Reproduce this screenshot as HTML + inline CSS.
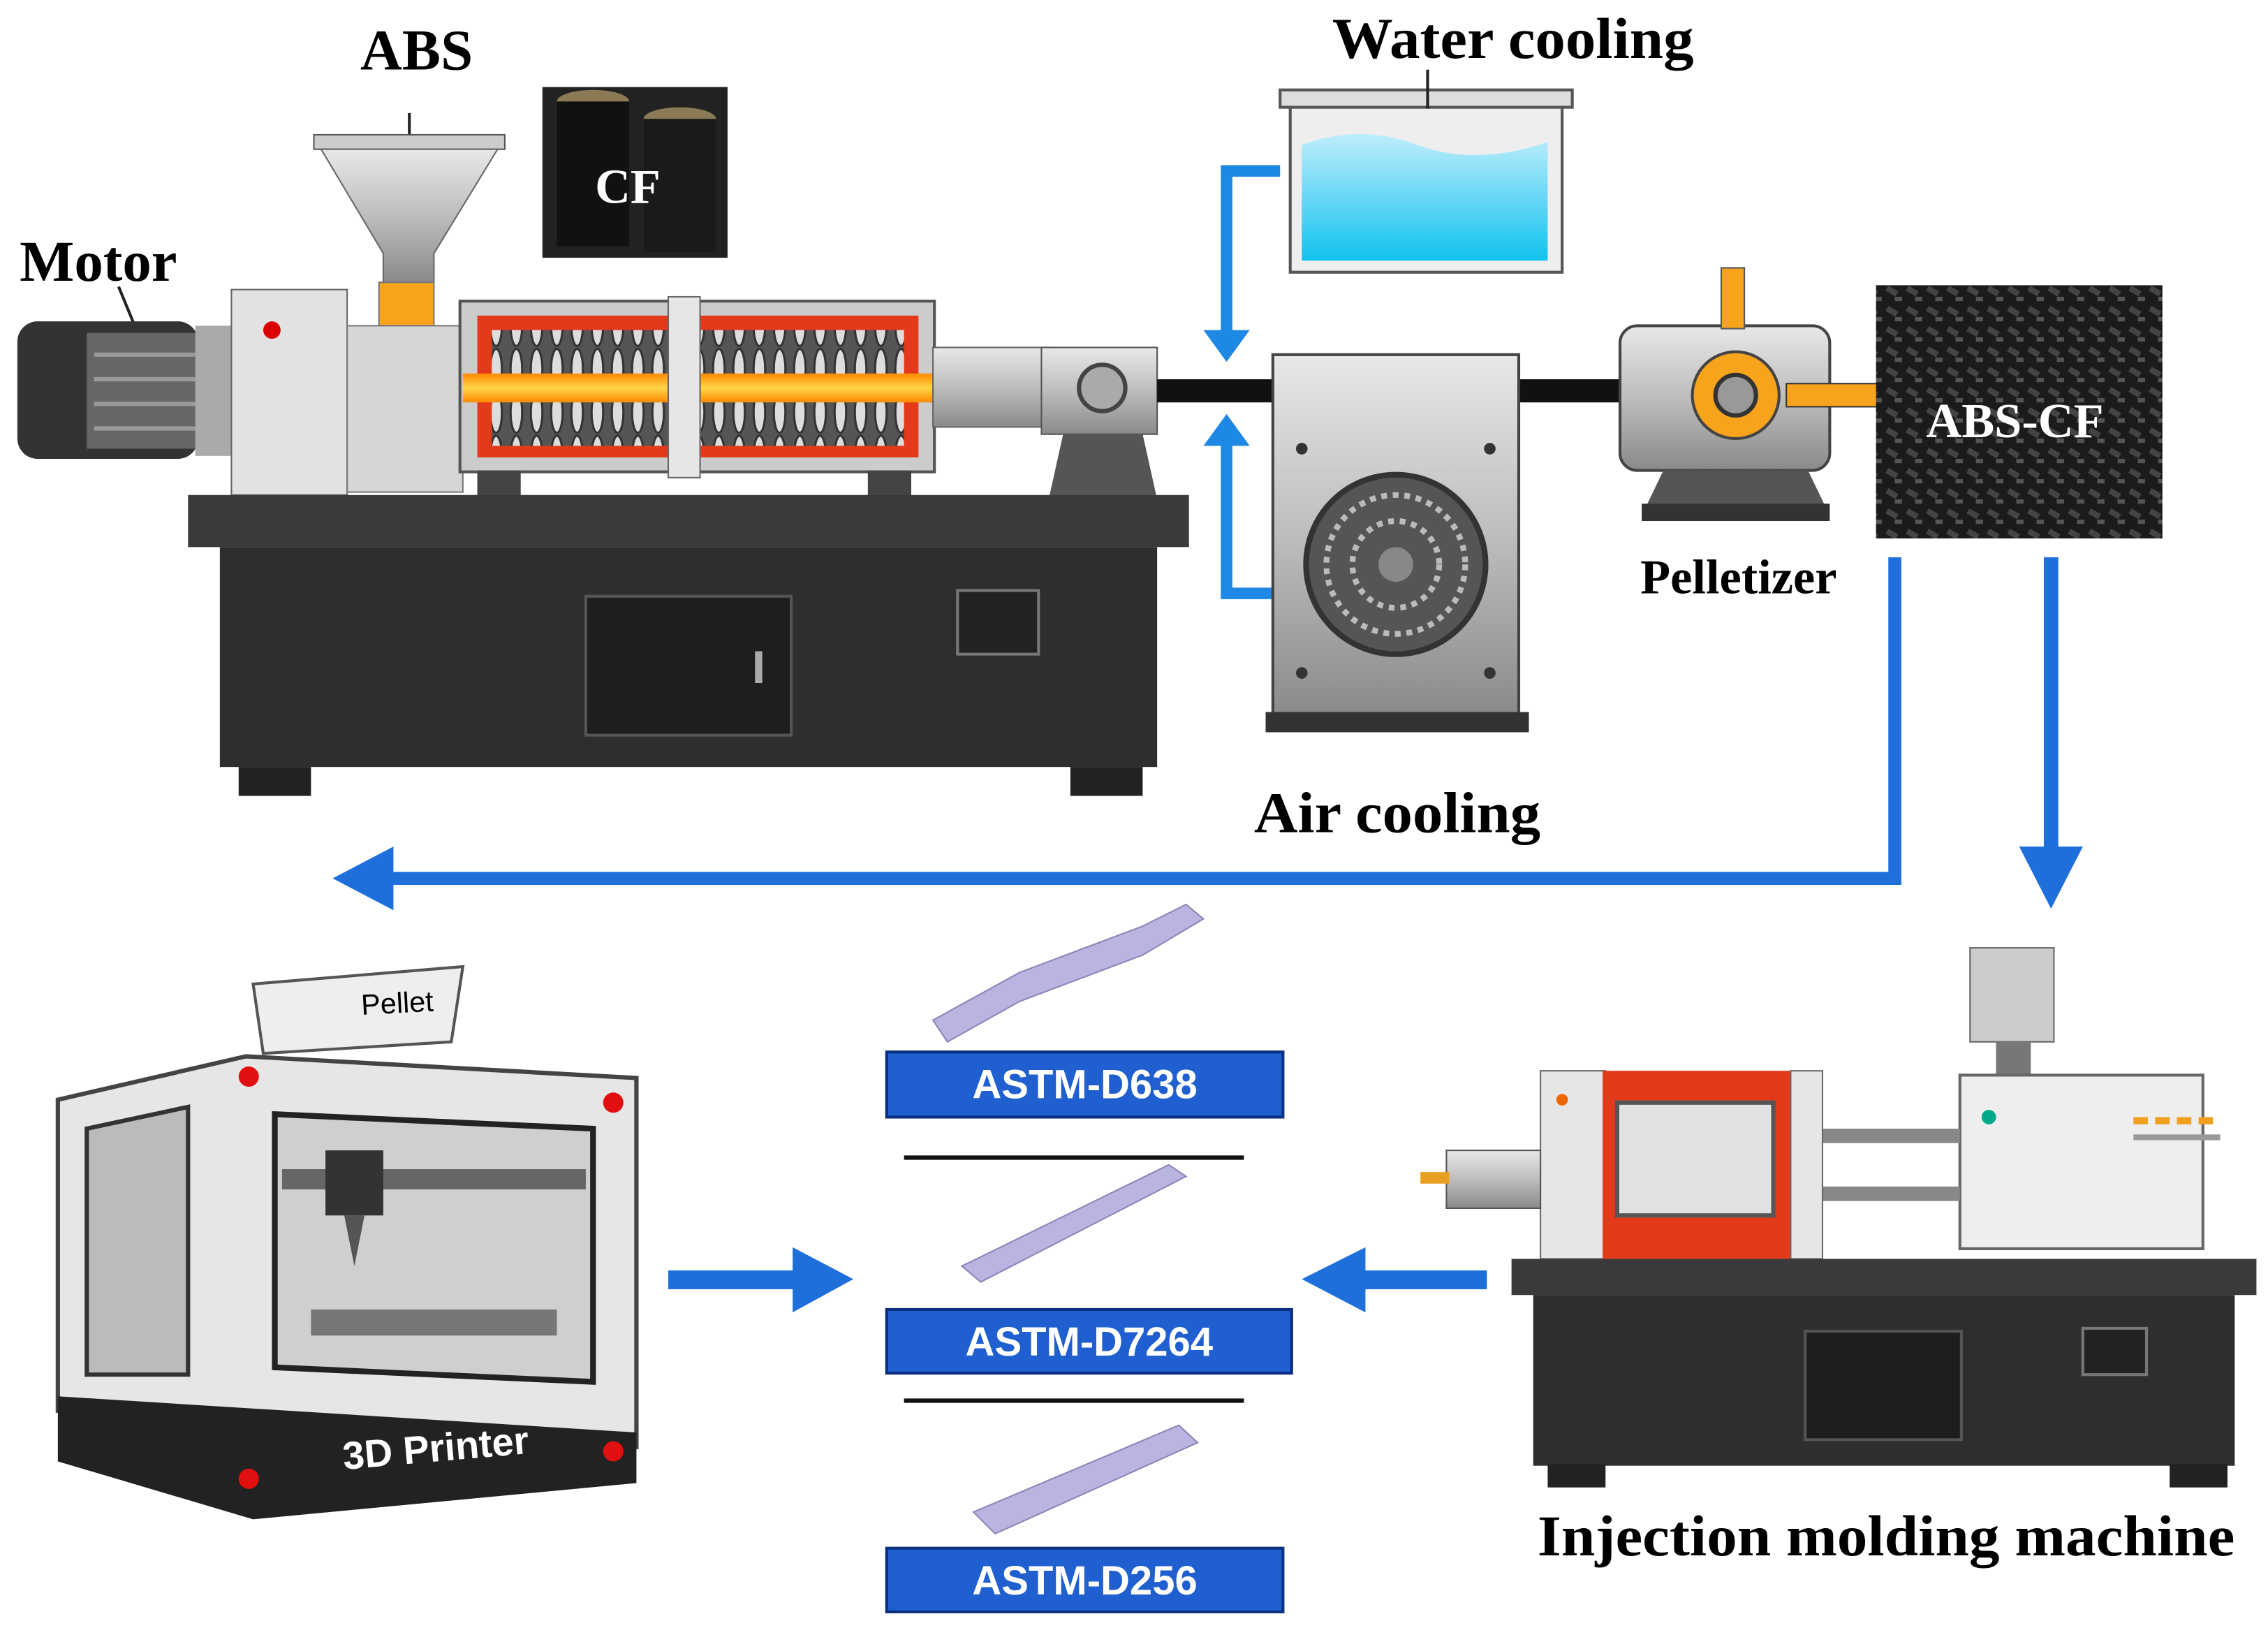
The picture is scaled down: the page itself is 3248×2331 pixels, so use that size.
<!DOCTYPE html>
<html><head><meta charset="utf-8"><style>
html,body{margin:0;padding:0;background:#fff}
svg{display:block}
.t{font-family:"Liberation Serif",serif;font-weight:bold}
.s{font-family:"Liberation Sans",sans-serif;font-weight:bold}
</style></head><body>
<svg width="3248" height="2331" viewBox="0 0 1568 1125" xmlns="http://www.w3.org/2000/svg">
<defs>
<linearGradient id="met" x1="0" y1="0" x2="0" y2="1"><stop offset="0" stop-color="#e8e8e8"/><stop offset="0.5" stop-color="#bdbdbd"/><stop offset="1" stop-color="#8a8a8a"/></linearGradient>
<linearGradient id="melt" x1="0" y1="0" x2="0" y2="1"><stop offset="0" stop-color="#ff8a00"/><stop offset="0.5" stop-color="#ffd54a"/><stop offset="1" stop-color="#ff8a00"/></linearGradient>
<linearGradient id="water" x1="0" y1="0" x2="0" y2="1"><stop offset="0" stop-color="#bfeefc"/><stop offset="1" stop-color="#10c2ee"/></linearGradient>
<pattern id="pel" width="14" height="14" patternUnits="userSpaceOnUse"><rect width="14" height="14" fill="#1b1b1b"/><rect x="2" y="3" width="8" height="4" fill="#444" transform="rotate(30 6 5)"/><rect x="8" y="9" width="5" height="3" fill="#555"/></pattern>
<pattern id="scr" width="14" height="30" patternUnits="userSpaceOnUse"><rect width="14" height="30" fill="#555"/><ellipse cx="7" cy="15" rx="4" ry="14" fill="#ddd" stroke="#333" stroke-width="1.5"/></pattern>
</defs>

<text x="288" y="48" class="t" font-size="40" text-anchor="middle">ABS</text>
<line x1="283" y1="78" x2="283" y2="96" stroke="#222" stroke-width="2"/>
<text x="68" y="194" class="t" font-size="40" text-anchor="middle">Motor</text>
<line x1="82" y1="198" x2="96" y2="232" stroke="#222" stroke-width="2"/>
<text x="1046" y="40" class="t" font-size="40" text-anchor="middle" textLength="250" lengthAdjust="spacingAndGlyphs">Water cooling</text>

<rect x="375" y="60" width="128" height="118" fill="#222"/>
<ellipse cx="410" cy="70" rx="25" ry="8" fill="#8a7a55"/>
<ellipse cx="470" cy="82" rx="25" ry="8" fill="#8a7a55"/>
<rect x="385" y="70" width="50" height="100" fill="#111"/>
<rect x="445" y="82" width="50" height="92" fill="#1a1a1a"/>
<text x="434" y="140" class="t" font-size="34" fill="#fff" text-anchor="middle">CF</text>

<rect x="217" y="93" width="132" height="10" fill="#ccc" stroke="#555"/>
<polygon points="222,103 344,103 300,175 300,195 265,195 265,175" fill="url(#met)" stroke="#666"/>
<rect x="262" y="195" width="38" height="40" fill="#f7a41c" stroke="#777"/>

<rect x="12" y="222" width="125" height="95" rx="14" fill="#333"/>
<rect x="60" y="230" width="80" height="80" fill="#666"/>
<g stroke="#999" stroke-width="3"><line x1="65" y1="245" x2="135" y2="245"/><line x1="65" y1="262" x2="135" y2="262"/><line x1="65" y1="279" x2="135" y2="279"/><line x1="65" y1="296" x2="135" y2="296"/></g>
<rect x="135" y="225" width="28" height="90" fill="#aaa"/>
<rect x="160" y="200" width="80" height="142" fill="#e2e2e2" stroke="#666"/>
<circle cx="188" cy="228" r="6" fill="#d00"/>
<rect x="240" y="225" width="80" height="115" fill="#d6d6d6" stroke="#777"/>

<rect x="318" y="208" width="328" height="118" fill="#ccc" stroke="#555" stroke-width="2"/>
<rect x="330" y="218" width="305" height="98" fill="#e23a1b"/>
<rect x="340" y="228" width="285" height="32" fill="url(#scr)"/>
<rect x="340" y="276" width="285" height="32" fill="url(#scr)"/>
<rect x="320" y="258" width="400" height="20" fill="url(#melt)"/>
<rect x="462" y="205" width="22" height="125" fill="#e6e6e6" stroke="#666"/>
<rect x="645" y="240" width="80" height="55" fill="url(#met)" stroke="#666"/>
<rect x="720" y="240" width="80" height="60" fill="url(#met)" stroke="#555"/>
<circle cx="762" cy="268" r="16" fill="#aaa" stroke="#444" stroke-width="3"/>
<polygon points="735,300 790,300 800,345 725,345" fill="#555"/>
<rect x="330" y="325" width="30" height="18" fill="#444"/>
<rect x="600" y="325" width="30" height="18" fill="#444"/>

<rect x="130" y="342" width="692" height="36" fill="#3a3a3a"/>
<rect x="152" y="378" width="648" height="152" fill="#2e2e2e"/>
<rect x="405" y="412" width="142" height="96" fill="#1e1e1e" stroke="#555" stroke-width="2"/>
<rect x="522" y="450" width="5" height="22" fill="#aaa"/>
<rect x="662" y="408" width="56" height="44" fill="#222" stroke="#777" stroke-width="2"/>
<rect x="165" y="530" width="50" height="20" fill="#222"/>
<rect x="740" y="530" width="50" height="20" fill="#222"/>

<rect x="800" y="262" width="330" height="16" fill="#111"/>

<rect x="885" y="62" width="202" height="12" fill="#ddd" stroke="#555" stroke-width="2"/>
<rect x="892" y="74" width="188" height="114" fill="#eee" stroke="#555" stroke-width="2"/>
<path d="M900 100 Q940 85 980 100 T1070 98 V180 H900 Z" fill="url(#water)"/>
<line x1="987" y1="48" x2="987" y2="75" stroke="#222" stroke-width="2"/>

<path d="M885 118 H848 V235" fill="none" stroke="#1e88e5" stroke-width="8"/>
<polygon points="832,228 864,228 848,250" fill="#1e88e5"/>
<path d="M885 410 H848 V300" fill="none" stroke="#1e88e5" stroke-width="8"/>
<polygon points="832,308 864,308 848,286" fill="#1e88e5"/>

<rect x="880" y="245" width="170" height="250" fill="url(#met)" stroke="#444" stroke-width="2"/>
<circle cx="965" cy="390" r="62" fill="#555" stroke="#333" stroke-width="4"/>
<circle cx="965" cy="390" r="48" fill="none" stroke="#bbb" stroke-width="4" stroke-dasharray="4 4"/>
<circle cx="965" cy="390" r="30" fill="none" stroke="#bbb" stroke-width="4" stroke-dasharray="4 4"/>
<circle cx="965" cy="390" r="12" fill="#888"/>
<circle cx="900" cy="310" r="4" fill="#333"/><circle cx="1030" cy="310" r="4" fill="#333"/>
<circle cx="900" cy="465" r="4" fill="#333"/><circle cx="1030" cy="465" r="4" fill="#333"/>
<rect x="875" y="492" width="182" height="14" fill="#333"/>
<text x="966" y="575" class="t" font-size="40" text-anchor="middle" textLength="198" lengthAdjust="spacingAndGlyphs">Air cooling</text>

<rect x="1120" y="225" width="145" height="100" rx="12" fill="url(#met)" stroke="#444" stroke-width="2"/>
<circle cx="1200" cy="273" r="30" fill="#f7a41c" stroke="#444" stroke-width="2"/>
<circle cx="1200" cy="273" r="14" fill="#999" stroke="#333" stroke-width="3"/>
<rect x="1190" y="185" width="16" height="42" fill="#f7a41c" stroke="#555"/>
<rect x="1235" y="265" width="65" height="16" fill="#f7a41c" stroke="#333"/>
<polygon points="1150,325 1250,325 1262,350 1138,350" fill="#555"/>
<rect x="1135" y="348" width="130" height="12" fill="#333"/>
<text x="1202" y="410" class="t" font-size="34" text-anchor="middle">Pelletizer</text>

<rect x="1297" y="197" width="198" height="175" fill="url(#pel)"/>
<text x="1393" y="302" class="t" font-size="34" fill="#fff" text-anchor="middle">ABS-CF</text>

<path d="M1310 385 V607 H265" fill="none" stroke="#1e6fd9" stroke-width="9"/>
<polygon points="272,585 272,629 230,607" fill="#1e6fd9"/>
<line x1="1418" y1="385" x2="1418" y2="590" stroke="#1e6fd9" stroke-width="10"/>
<polygon points="1396,585 1440,585 1418,628" fill="#1e6fd9"/>

<polygon points="645,705 705,672 790,640 820,625 832,635 790,660 705,692 655,720" fill="#b9b4e0" stroke="#8a86b8"/>
<rect x="613" y="727" width="274" height="45" fill="#1f5fcf" stroke="#0b2f80" stroke-width="2"/>
<text x="750" y="759" class="s" font-size="28" fill="#fff" text-anchor="middle">ASTM-D638</text>
<line x1="625" y1="800" x2="860" y2="800" stroke="#111" stroke-width="3"/>
<polygon points="665,875 808,805 820,813 678,886" fill="#b9b4e0" stroke="#8a86b8"/>
<rect x="613" y="905" width="280" height="44" fill="#1f5fcf" stroke="#0b2f80" stroke-width="2"/>
<text x="753" y="937" class="s" font-size="28" fill="#fff" text-anchor="middle">ASTM-D7264</text>
<line x1="625" y1="968" x2="860" y2="968" stroke="#111" stroke-width="3"/>
<polygon points="673,1045 815,985 828,997 688,1060" fill="#b9b4e0" stroke="#8a86b8"/>
<rect x="613" y="1070" width="274" height="44" fill="#1f5fcf" stroke="#0b2f80" stroke-width="2"/>
<text x="750" y="1102" class="s" font-size="28" fill="#fff" text-anchor="middle">ASTM-D256</text>

<rect x="462" y="878" width="90" height="13" fill="#1e6fd9"/>
<polygon points="548,862 548,907 590,884" fill="#1e6fd9"/>
<rect x="940" y="878" width="88" height="13" fill="#1e6fd9"/>
<polygon points="944,862 944,907 900,884" fill="#1e6fd9"/>

<polygon points="175,680 320,668 312,720 182,728" fill="#eee" stroke="#555" stroke-width="2"/>
<text x="275" y="700" font-family="Liberation Sans,sans-serif" font-size="20" text-anchor="middle" transform="rotate(-3 275 700)">Pellet</text>
<polygon points="40,760 170,730 440,745 440,1000 40,975" fill="#e6e6e6" stroke="#444" stroke-width="3"/>
<polygon points="60,780 130,765 130,950 60,950" fill="#bbb" stroke="#333" stroke-width="3"/>
<polygon points="190,770 410,780 410,955 190,945" fill="#cfcfcf" stroke="#222" stroke-width="4"/>
<rect x="195" y="808" width="210" height="14" fill="#666"/>
<rect x="225" y="795" width="40" height="45" fill="#333"/>
<polygon points="238,840 252,840 245,875" fill="#555"/>
<rect x="215" y="905" width="170" height="18" fill="#777"/>
<circle cx="172" cy="744" r="7" fill="#e01010"/><circle cx="424" cy="762" r="7" fill="#e01010"/>
<polygon points="40,965 440,990 440,1025 175,1050 40,1010" fill="#222"/>
<text x="302" y="1010" class="s" font-size="27" fill="#fff" text-anchor="middle" transform="rotate(-5 302 1010)">3D Printer</text>
<circle cx="172" cy="1022" r="7" fill="#e01010"/><circle cx="424" cy="1003" r="7" fill="#e01010"/>

<rect x="1362" y="655" width="58" height="65" fill="#ccc" stroke="#666"/>
<rect x="1380" y="720" width="24" height="25" fill="#777"/>
<rect x="1355" y="743" width="168" height="120" fill="#eee" stroke="#666" stroke-width="2"/>
<circle cx="1375" cy="772" r="5" fill="#0a8"/>
<g fill="#f0a020"><rect x="1475" y="772" width="10" height="5"/><rect x="1490" y="772" width="10" height="5"/><rect x="1505" y="772" width="10" height="5"/><rect x="1520" y="772" width="10" height="5"/></g>
<rect x="1475" y="784" width="60" height="4" fill="#999"/>
<rect x="1255" y="780" width="100" height="10" fill="#888"/>
<rect x="1255" y="820" width="100" height="10" fill="#888"/>
<rect x="1065" y="740" width="45" height="130" fill="#e6e6e6" stroke="#666"/>
<circle cx="1080" cy="760" r="4" fill="#e60"/>
<rect x="1108" y="740" width="130" height="130" fill="#e23a1b"/>
<rect x="1118" y="762" width="108" height="78" fill="#e2e2e2" stroke="#555" stroke-width="3"/>
<rect x="1238" y="740" width="22" height="130" fill="#e6e6e6" stroke="#666"/>
<rect x="1000" y="795" width="65" height="40" fill="url(#met)" stroke="#555"/>
<rect x="982" y="810" width="20" height="8" fill="#e8a020"/>
<rect x="1045" y="870" width="515" height="25" fill="#3a3a3a"/>
<rect x="1060" y="895" width="485" height="118" fill="#2e2e2e"/>
<rect x="1248" y="920" width="108" height="75" fill="#1e1e1e" stroke="#555" stroke-width="2"/>
<rect x="1440" y="918" width="44" height="32" fill="#222" stroke="#777" stroke-width="2"/>
<rect x="1070" y="1012" width="40" height="16" fill="#222"/>
<rect x="1500" y="1012" width="40" height="16" fill="#222"/>
<text x="1304" y="1075" class="t" font-size="40" text-anchor="middle" textLength="482" lengthAdjust="spacingAndGlyphs">Injection molding machine</text>
</svg>
</body></html>
